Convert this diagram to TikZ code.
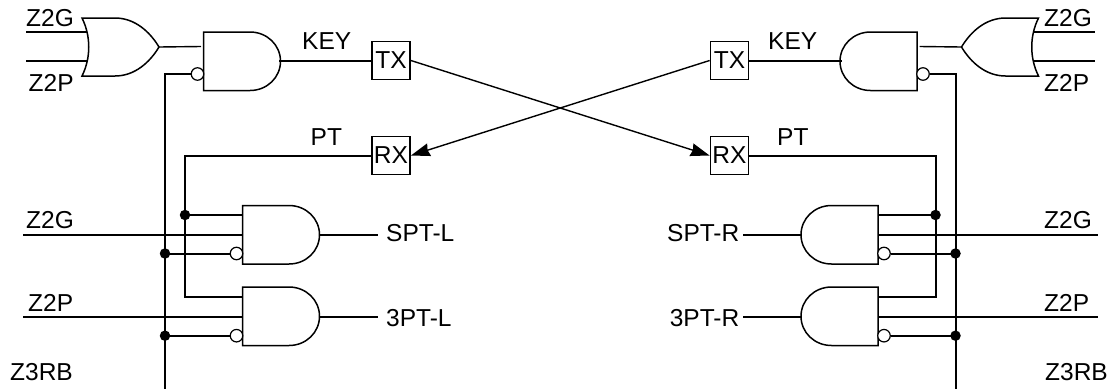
\documentclass[tikz,border=0pt]{standalone}
\usepackage{fontspec}
\setmainfont{Liberation Sans}
\usetikzlibrary{arrows.meta}
\tikzset{
  x=1pt,y=-1pt,
  wire/.style={line width=2pt,black},
  thinwire/.style={line width=1.4pt,black},
  gateline/.style={line width=1.5pt,black},
  bubble/.style={circle,draw=black,fill=white,line width=1.2pt,minimum size=12.5pt,inner sep=0pt},
  junction/.style={circle,fill=black,minimum size=10.5pt,inner sep=0pt},
  portbox/.style={draw=black,line width=1.8pt,minimum size=38pt,inner sep=0pt,font=\fontsize{24.5pt}{24.5pt}\selectfont,fill=white},
  lbl/.style={inner sep=0pt,font=\fontsize{24.5pt}{24.5pt}\selectfont},
  tip/.style={-{Stealth[length=19pt,width=13pt,inset=1.5pt]}},
  andshape/.pic={\draw[gateline] (0,0) -- (46.5,0) .. controls (63.5,0) and (77,13) .. (77,29.25) .. controls (77,45.5) and (63.5,58.5) .. (46.5,58.5) -- (0,58.5) -- cycle;},
  orshape/.pic={\draw[gateline] (0,0) -- (33,0) .. controls (53,0) and (68,14) .. (77,29) .. controls (68,44) and (53,58) .. (33,58) -- (0,58) .. controls (9,40) and (9,18) .. (0,0) -- cycle;}
}
% #1 = anchor on the side of a node towards the outer edge of the picture
\newcommand{\halfcircuit}[1]{%
  % gates
  \pic[transform shape] at (82,18) {orshape};
  \pic[transform shape] at (203.5,32) {andshape};
  \pic[transform shape] at (242.5,205.5) {andshape};
  \pic[transform shape] at (242.5,287) {andshape};
  % ports
  \node[portbox] (tx) at (391,60.5) {TX};
  \node[portbox] (rx) at (391,155.5) {RX};
  % bubbles
  \node[bubble] (b1) at (197.5,74) {};
  \node[bubble] (b2) at (236.5,253.5) {};
  \node[bubble] (b3) at (236.5,335.7) {};
  % coordinates
  \coordinate (z2ga) at (26,32);
  \coordinate (z2gb) at (87,32);
  \coordinate (z2pa) at (26,61);
  \coordinate (z2pb) at (87.5,61);
  \coordinate (orout) at (159,47);
  \coordinate (andin) at (201,46.5);
  \coordinate (andout) at (279,61);
  \coordinate (bustop) at (165,74);
  \coordinate (busend) at (165,389);
  \coordinate (ptc) at (185,155.5);
  \coordinate (ptend) at (185,297);
  \coordinate (ptg) at (242.5,297);
  \coordinate (g1top) at (242.5,215);
  \coordinate (g1mid) at (242.5,234.7);
  \coordinate (g2mid) at (242.5,316.8);
  \coordinate (zga) at (23,234.7);
  \coordinate (zpa) at (23,316.8);
  \coordinate (g1out) at (319.5,234.7);
  \coordinate (g2out) at (319.5,316.8);
  \coordinate (o1) at (378,234.7);
  \coordinate (o2) at (378,316.8);
  \node[junction] (j1) at (185,215) {};
  \node[junction] (j2) at (165,253.5) {};
  \node[junction] (j3) at (165,335.7) {};
  % wires
  \draw[wire] (z2ga) -- (z2gb);
  \draw[wire] (z2pa) -- (z2pb);
  \draw[thinwire] (orout) -- (andin);
  \draw[thinwire] (andout) -- (tx.#1 |- andout);
  \draw[wire] (b1.#1) -- (bustop) -- (busend);
  \draw[wire] (rx.#1) -- (ptc) -- (ptend) -- (ptg);
  \draw[wire] (j1.center) -- (g1top);
  \draw[wire] (j2.center) -- (b2.#1);
  \draw[wire] (j3.center) -- (b3.#1);
  \draw[wire] (zga) -- (g1mid);
  \draw[wire] (zpa) -- (g2mid);
  \draw[wire] (g1out) -- (o1);
  \draw[wire] (g2out) -- (o2);
}
\begin{document}
\begin{tikzpicture}
\useasboundingbox (0,0) rectangle (1114,389);
\begin{scope}[name prefix=L-]
  \halfcircuit{west}
\end{scope}
\begin{scope}[name prefix=R-,shift={(1120.5,0)},xscale=-1]
  \halfcircuit{east}
\end{scope}
% crossing links
\draw[thinwire,tip] (L-tx.east) -- (R-rx.west);
\draw[thinwire,tip] (R-tx.west) -- (L-rx.east);
% left labels
\node[lbl,anchor=base west] (t1) at (26,26.7) {Z2G};
\node[lbl,anchor=base west] (t2) at (28.5,91.7) {Z2P};
\node[lbl,anchor=base west] (t3) at (302,49) {KEY};
\node[lbl,anchor=base west] (t4) at (310.5,145.3) {PT};
\node[lbl,anchor=base west] (t5) at (26,228.3) {Z2G};
\node[lbl,anchor=base west] (t6) at (28,311.7) {Z2P};
\node[lbl,anchor=base west] (t7) at (10,380) {Z3RB};
\node[lbl,anchor=base west] (t8) at (386,241.7) {SPT-L};
\node[lbl,anchor=base west] (t9) at (386,326) {3PT-L};
% right labels
\node[lbl,anchor=base west] (u1) at (1044,26.7) {Z2G};
\node[lbl,anchor=base west] (u2) at (1044,91.7) {Z2P};
\node[lbl,anchor=base west] (u3) at (768,49) {KEY};
\node[lbl,anchor=base west] (u4) at (777,145.3) {PT};
\node[lbl,anchor=base west] (u5) at (1044,228.3) {Z2G};
\node[lbl,anchor=base west] (u6) at (1044,311.7) {Z2P};
\node[lbl,anchor=base west] (u7) at (1045,380) {Z3RB};
\node[lbl,anchor=base east] (u8) at (739.5,241.7) {SPT-R};
\node[lbl,anchor=base east] (u9) at (739.5,326) {3PT-R};
\end{tikzpicture}
\end{document}
